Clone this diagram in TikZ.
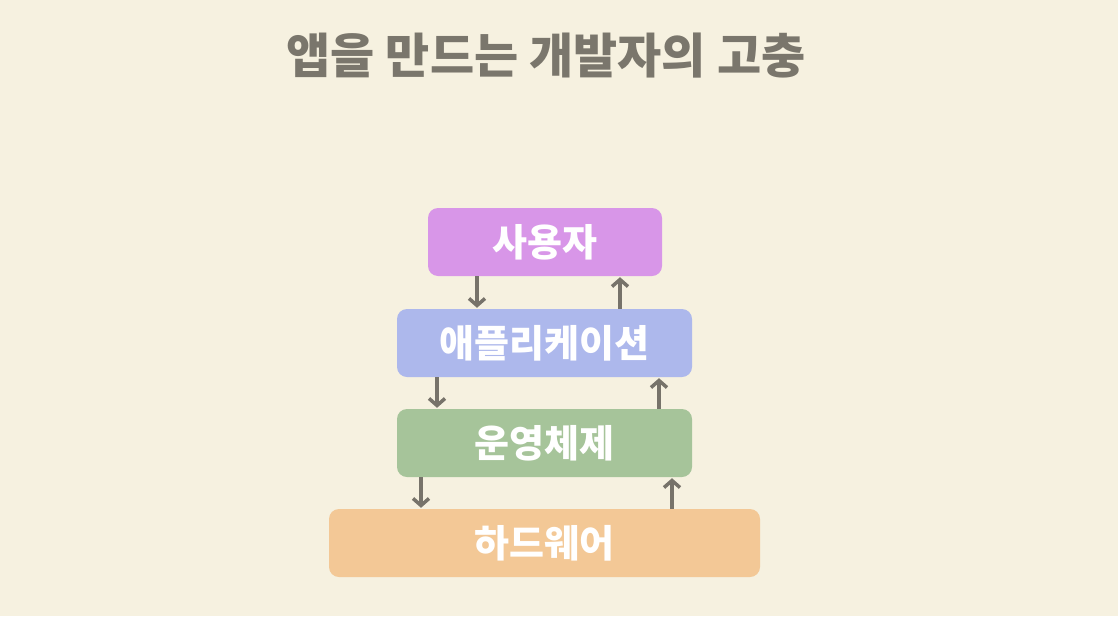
\documentclass[tikz,border=0pt]{standalone}
\usepackage{fontspec}
\newfontfamily\kr{Noto Sans CJK KR}
\usetikzlibrary{arrows.meta}
\definecolor{bg}{HTML}{F6F1E0}
\definecolor{titlegray}{HTML}{7A766C}
\definecolor{arrgray}{HTML}{77736A}
\definecolor{cuser}{HTML}{D896E8}
\definecolor{capp}{HTML}{ADB8EC}
\definecolor{cos}{HTML}{A6C49A}
\definecolor{chw}{HTML}{F3C896}
\tikzset{
  layer/.style={rectangle, rounded corners=10pt, minimum height=68pt, inner sep=0pt,
    text=white, font=\kr\bfseries\fontsize{38}{38}\selectfont},
  arr/.style={draw=arrgray, line width=3.5pt, -{Straight Barb[length=7pt,width=16pt,line width=3.5pt]}}
}
\begin{document}
\begin{tikzpicture}[x=1pt,y=-1pt]
\fill[bg] (0,0) rectangle (1118,616);
\useasboundingbox (0,0) rectangle (1118,616);
\node[text=titlegray, font=\kr\bfseries\fontsize{48}{48}\selectfont] (title) at (546,56) {앱을 만드는 개발자의 고충};
\node[layer, fill=cuser, minimum width=234pt] (user) at (545,242) {사용자};
\node[layer, fill=capp, minimum width=295pt] (app) at (544.5,343) {애플리케이션};
\node[layer, fill=cos, minimum width=295pt] (os) at (544.5,443) {운영체제};
\node[layer, fill=chw, minimum width=431pt] (hw) at (544.5,543) {하드웨어};
\coordinate (a1) at (477,0);
\coordinate (a2) at (620,0);
\coordinate (b1) at (437,0);
\coordinate (b2) at (659,0);
\coordinate (c1) at (421,0);
\coordinate (c2) at (672,0);
\draw[arr] (user.south -| a1) -- ([yshift=1pt]app.north -| a1);
\draw[arr] (app.north -| a2) -- ([yshift=-1pt]user.south -| a2);
\draw[arr] (app.south -| b1) -- ([yshift=1pt]os.north -| b1);
\draw[arr] (os.north -| b2) -- ([yshift=-1pt]app.south -| b2);
\draw[arr] (os.south -| c1) -- ([yshift=1pt]hw.north -| c1);
\draw[arr] (hw.north -| c2) -- ([yshift=-1pt]os.south -| c2);
\end{tikzpicture}
\end{document}
